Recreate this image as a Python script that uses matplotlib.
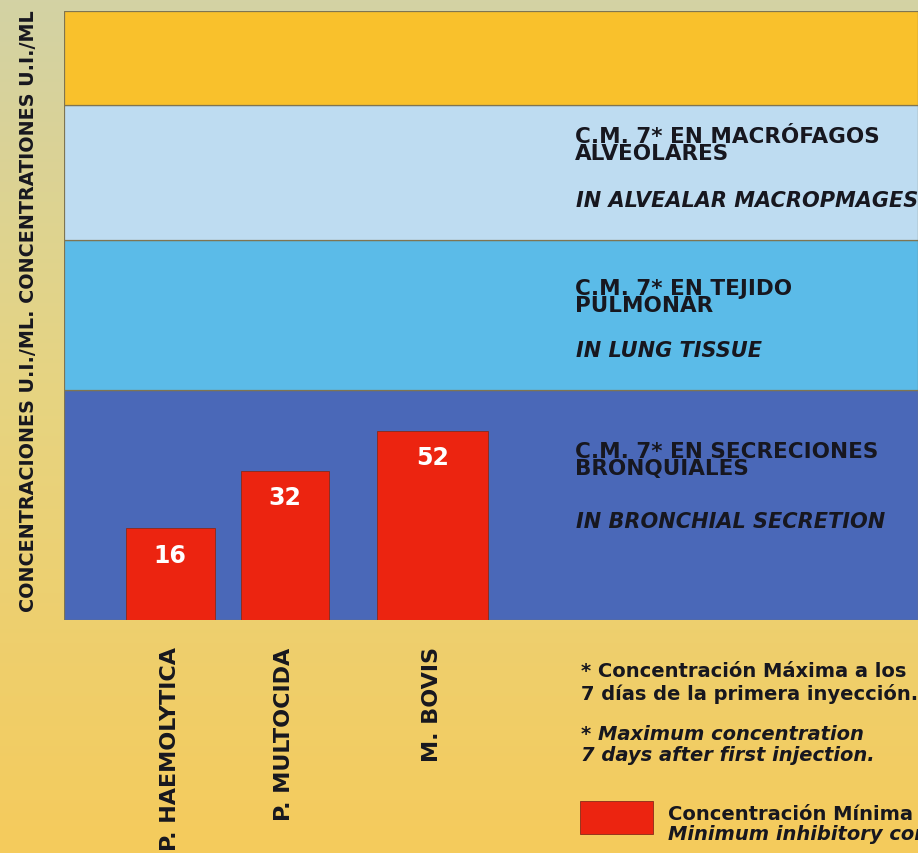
import numpy as np
import matplotlib
matplotlib.use("Agg")
import matplotlib.pyplot as plt
from matplotlib.patches import Rectangle
from matplotlib.colors import LinearSegmentedColormap

# ---- data ---------------------------------------------------------------
organisms = ["P. HAEMOLYTICA", "P. MULTOCIDA", "M. BOVIS"]
mic_values = [16, 32, 52]                      # U.I./ml
zone_limits = [5.3, 85, 520, 2650, 8250]       # U.I./ml, lower to upper zone edges
zone_titles_es = [
    ["C.M. 7* EN SECRECIONES", "BRONQUIALES"],
    ["C.M. 7* EN TEJIDO", "PULMONAR"],
    ["C.M. 7* EN MACRÓFAGOS", "ALVEOLARES"],
]
zone_titles_en = ["IN BRONCHIAL SECRETION", "IN LUNG TISSUE", "IN ALVEALAR MACROPMAGES"]
ylabel_text = "CONCENTRACIONES U.I./ML. CONCENTRATIONES U.I./ML"
note_es = ["* Concentración Máxima a los", "7 días de la primera inyección."]
note_en = ["* Maximum concentration", "7 days after first injection."]
legend_lines = ["Concentración Mínima Inhibitoria", "Minimum inhibitory concentration"]

# ---- layout / style -----------------------------------------------------
W, H, DPI = 918, 854, 100
bar_centers = [106, 220.5, 368.5]
bar_widths = [89, 88, 111]
zone_colors = ["#4a68b8", "#5bbbe8", "#bedcf1", "#f9c12c"]
bar_color = "#ec2410"
ink = "#17171f"
FONT = "DejaVu Sans"


def fx(x):
    return x / W


def fy(y):
    return 1 - y / H


fig = plt.figure(figsize=(W / DPI, H / DPI), dpi=DPI)

# paper background: khaki at the top warming to yellow at the bottom
bg = fig.add_axes([0, 0, 1, 1], zorder=0)
cmap = LinearSegmentedColormap.from_list(
    "paper", [(0, "#d3d2a4"), (0.45, "#e6d482"), (1, "#f5cb5c")])
bg.imshow(np.linspace(0, 1, 256)[:, None], aspect="auto", cmap=cmap,
          extent=[0, 1, 0, 1], origin="upper")
bg.set_axis_off()

ax_w = W - 64
ax = fig.add_axes([fx(64), 1 - 621 / H, fx(ax_w), 609 / H], zorder=1)
ax.set_facecolor("none")
ax.set_yscale("log")
ax.set_ylim(zone_limits[0], zone_limits[-1])
ax.set_xlim(0, ax_w)

for lo, hi, col in zip(zone_limits[:-1], zone_limits[1:], zone_colors):
    ax.axhspan(lo, hi, facecolor=col, edgecolor="#7f7552", linewidth=0.9, zorder=0)

# bars rise from the lower edge of the scale up to each value
base = zone_limits[0]
bars = ax.bar(bar_centers, np.subtract(mic_values, base), width=bar_widths,
              bottom=base, color=bar_color, edgecolor="#8a2a1a", linewidth=0.6,
              zorder=2)
for c, v in zip(bar_centers, mic_values):
    ax.annotate(f"{v}", xy=(c, v), xytext=(0, -24), textcoords="offset points",
                ha="center", va="baseline", color="white", fontsize=17,
                fontweight="bold", family=FONT, zorder=3)

for s in ax.spines.values():
    s.set_visible(False)
ax.yaxis.set_major_locator(matplotlib.ticker.NullLocator())
ax.yaxis.set_minor_locator(matplotlib.ticker.NullLocator())
ax.set_xticks(bar_centers)
ax.set_xticklabels(organisms, rotation=90, va="top", ha="center",
                   fontsize=16, fontweight="bold", family=FONT, color=ink)
ax.tick_params(axis="x", length=0, pad=19)

# zone captions
title_top = [445, 282, 130]
title_en_base = [528, 357, 207]
for es, en, yt, yb in zip(zone_titles_es, zone_titles_en, title_top, title_en_base):
    fig.text(fx(575), fy(yt - 3), "\n".join(es), fontsize=15.5, fontweight="bold",
             family=FONT, color=ink, va="top", linespacing=0.8, zorder=5)
    fig.text(fx(576), fy(yb), en, fontsize=15, fontweight="bold", style="italic",
             family=FONT, color=ink, va="baseline", zorder=5)

# vertical axis caption
fig.text(fx(29), fy(311), ylabel_text, rotation=90, ha="center", va="center",
         fontsize=13.8, fontweight="bold", family=FONT, color=ink, zorder=5)

# footnotes
for txt, yb in zip(note_es, (677, 700)):
    fig.text(fx(581), fy(yb), txt, fontsize=14, fontweight="bold", family=FONT,
             color=ink, va="baseline", zorder=5)
for txt, yb in zip(note_en, (740, 761)):
    fig.text(fx(581), fy(yb), txt, fontsize=14, fontweight="bold", style="italic",
             family=FONT, color=ink, va="baseline", zorder=5)

# legend key
fig.patches.append(Rectangle((fx(580), fy(835)), fx(73), 33 / H,
                             transform=fig.transFigure, facecolor=bar_color,
                             edgecolor="#8a2a1a", linewidth=0.6, zorder=5))
fig.text(fx(668), fy(820), legend_lines[0], fontsize=14, fontweight="bold",
         family=FONT, color=ink, va="baseline", zorder=5)
fig.text(fx(668), fy(840), legend_lines[1], fontsize=14, fontweight="bold",
         style="italic", family=FONT, color=ink, va="baseline", zorder=5)

fig.savefig("out.png", dpi=DPI)
